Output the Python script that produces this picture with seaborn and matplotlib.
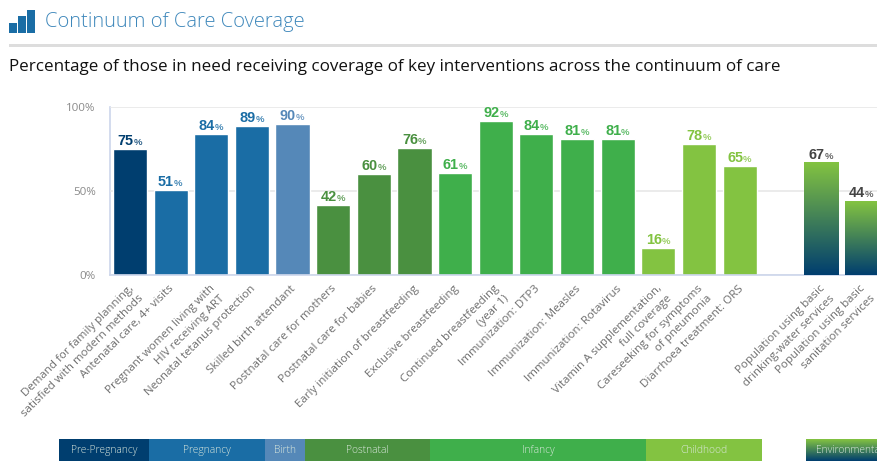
import matplotlib
matplotlib.use("Agg")
import matplotlib.pyplot as plt
from matplotlib.colors import LinearSegmentedColormap
from matplotlib.patches import Rectangle
from matplotlib.transforms import ScaledTranslation
import numpy as np
import pandas as pd
import seaborn as sns

labels = [
    "Demand for family planning,\nsatisfied with modern methods",
    "Antenatal care, 4+ visits",
    "Pregnant women living with\nHIV receiving ART",
    "Neonatal tetanus protection",
    "Skilled birth attendant",
    "Postnatal care for mothers",
    "Postnatal care for babies",
    "Early initiation of breastfeeding",
    "Exclusive breastfeeding",
    "Continued breastfeeding\n(year 1)",
    "Immunization: DTP3",
    "Immunization: Measles",
    "Immunization: Rotavirus",
    "Vitamin A supplementation,\nfull coverage",
    "Careseeking for symptoms\nof pneumonia",
    "Diarrhoea treatment: ORS",
    "Population using basic\ndrinking-water services",
    "Population using basic\nsanitation services",
]
values = [75, 51, 84, 89, 90, 42, 60, 76, 61, 92, 84, 81, 81, 16, 78, 65, 67, 44]
stages = ["Pre-Pregnancy"] + ["Pregnancy"] * 3 + ["Birth"] + ["Postnatal"] * 3 + ["Infancy"] * 5 \
    + ["Childhood"] * 3 + ["Environmental"] * 2

stage_names = ["Pre-Pregnancy", "Pregnancy", "Birth", "Postnatal", "Infancy", "Childhood", "Environmental"]
stage_colors = ["#003e6f", "#1a6da5", "#5588b8", "#4a9040", "#3faf4b", "#83c341", "#83c341"]
palette = dict(zip(stage_names, stage_colors))

# order has an empty slot between the childhood and environmental bars
order = labels[:16] + [" "] + labels[16:]

W, H = 878, 461
PT = 72 / 100  # px to pt at dpi 100
FONT = "Open Sans"

sns.set_theme(style="white")
plt.rcParams["font.family"] = [FONT, "DejaVu Sans"]

fig = plt.figure(figsize=(W / 100, H / 100), dpi=100, facecolor="white")

# page layer in pixel coords
page = fig.add_axes([0, 0, 1, 1])
page.set_xlim(0, W)
page.set_ylim(H, 0)
page.axis("off")

for x, top in [(9, 23), (18, 16), (27, 10)]:
    page.add_patch(Rectangle((x, top), 8, 33 - top, color="#1a6da5", lw=0))
page.text(45, 22, "Continuum of Care Coverage", fontsize=20.2 * PT, color="#3f88bb",
          va="center", ha="left", fontweight="light")
page.add_patch(Rectangle((9, 44), W - 9, 3, color="#dddddd", lw=0))
page.text(9, 67, "Percentage of those in need receiving coverage of key interventions across the continuum of care",
          fontsize=17 * PT, color="#111111", va="center", ha="left")

# stage strip along the bottom
strip = [(59, 149), (149, 265), (265, 305), (305, 430), (430, 646), (646, 762), (806, 900)]
for name, color, (x0, x1) in zip(stage_names, stage_colors, strip):
    if name == "Environmental":
        grad = LinearSegmentedColormap.from_list("env", ["#83c341", "#003e6f"])
        page.imshow(np.linspace(0, 1, 64).reshape(-1, 1), cmap=grad, aspect="auto",
                    extent=(x0, x1, 461, 439), zorder=1)
        page.text(816, 450.5, name, fontsize=10.2 * PT, color="#dbe8dd", va="center", ha="left",
                  fontweight="light", zorder=2)
    else:
        page.add_patch(Rectangle((x0, 439), x1 - x0, 22, color=color, lw=0))
        page.text((x0 + x1) / 2, 450.5, name, fontsize=10.2 * PT, color="#dbe8dd", va="center",
                  ha="center", fontweight="light")
page.set_xlim(0, W)
page.set_ylim(H, 0)

# chart layer
left, slot, y0, y100 = 109.6, 40.65, 275.3, 107.3
ax = fig.add_axes([left / W, 1 - y0 / H, slot * 19 / W, (y0 - y100) / H])
ax.patch.set_alpha(0)

df = pd.DataFrame({"label": labels, "value": values, "stage": stages})
sns.barplot(data=df, x="label", y="value", hue="stage", order=order, hue_order=stage_names,
            palette=palette, dodge=False, width=0.84, saturation=1, legend=False, ax=ax)

ax.set_xlim(-0.5, 18.5)
ax.set_ylim(0, 100)
ax.set_xlabel("")
ax.set_ylabel("")

# environmental bars fade from green to navy
env_cmap = LinearSegmentedColormap.from_list("env", ["#83c341", "#003e6f"])
for bar in ax.patches:
    if bar.get_height() > 0 and bar.get_x() > 16:
        ax.imshow(np.linspace(0, 1, 128).reshape(-1, 1), cmap=env_cmap, aspect="auto", zorder=3,
                  extent=(bar.get_x(), bar.get_x() + bar.get_width(), 0, bar.get_height()))
ax.set_xlim(-0.5, 18.5)
ax.set_ylim(0, 100)

# value labels, number and small percent sign
positions = {name: i for i, name in enumerate(order)}
stage_text = dict(palette)
stage_text["Environmental"] = "#444444"
for label, value, stage in zip(labels, values, stages):
    i = positions[label]
    ax.annotate(str(value), (i, value), xytext=(3.5 * PT, 4 * PT), textcoords="offset points",
                ha="right", va="baseline", fontsize=14.5 * PT, fontweight="bold",
                family="Liberation Sans", color=stage_text[stage], zorder=5)
    ax.annotate("%", (i, value), xytext=(3.5 * PT, 4 * PT), textcoords="offset points",
                ha="left", va="baseline", fontsize=9.5 * PT, fontweight="bold",
                family="Liberation Sans", color=stage_text[stage], alpha=0.8, zorder=5)

# axes furniture
sns.despine(ax=ax, top=True, right=True)
for side in ["left", "bottom"]:
    ax.spines[side].set_color("#ccd6eb")
    ax.spines[side].set_linewidth(1.2)
ax.spines["left"].set_zorder(0)

ax.set_yticks([0, 50, 100])
ax.set_yticklabels(["0%", "50%", "100%"])
ax.tick_params(axis="y", length=0, pad=14 * PT, labelsize=11.5 * PT, labelcolor="#8a8a8a")
ax.yaxis.grid(True, color="#e8e8e8", lw=1.2)
ax.set_axisbelow(True)

ax.set_xticks(range(19))
ax.set_xticklabels(order, rotation=45, ha="right", rotation_mode="anchor", multialignment="right",
                   fontsize=11.5 * PT, color="#6e6e6e", linespacing=1.35)
ax.tick_params(axis="x", length=0, pad=8 * PT)
shift = ScaledTranslation(-2 / 100, 0, fig.dpi_scale_trans)
for tick in ax.get_xticklabels():
    tick.set_transform(tick.get_transform() + shift)
ax.set_xticks(np.arange(-0.5, 19, 1), minor=True)
ax.tick_params(axis="x", which="minor", length=10 * PT, width=1.2, color="#ccd6eb")

fig.savefig("out.png", dpi=100)
